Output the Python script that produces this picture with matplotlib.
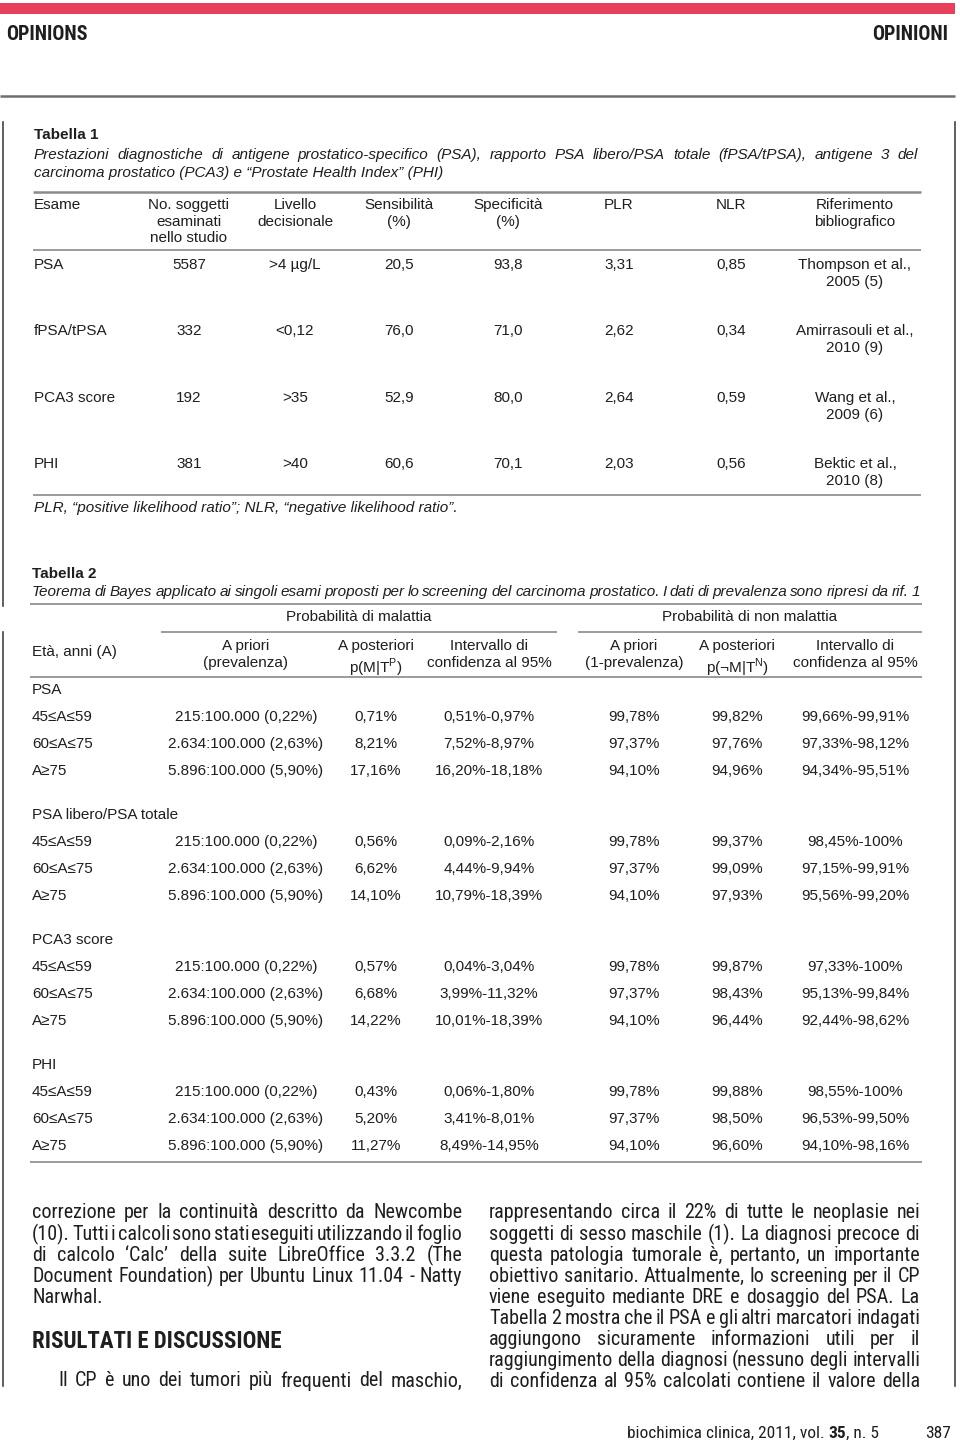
# plot.py
# Journal page recreation: two tables + body text, drawn as text on a pixel grid.

import matplotlib
matplotlib.use("Agg")
from matplotlib import pyplot as plt
from matplotlib import font_manager

W, H = 960, 1443
TABLE_FONT = ['Liberation Sans', 'DejaVu Sans']
INK = '#1e1e1e'
RULE = '#8a8a8a'
RED = '#e8405a'

plt.rcParams['mathtext.fontset'] = 'custom'
plt.rcParams['mathtext.rm'] = 'Liberation Sans'

# ---- Tabella 1 ----
t1_title = "Tabella 1"
t1_caption = [
    "Prestazioni diagnostiche di antigene prostatico-specifico (PSA), rapporto PSA libero/PSA totale (fPSA/tPSA), antigene 3 del",
    "carcinoma prostatico (PCA3) e “Prostate Health Index” (PHI)",
]
t1_headers = ["Esame", "No. soggetti\nesaminati\nnello studio", "Livello\ndecisionale",
              "Sensibilità\n(%)", "Specificità\n(%)", "PLR", "NLR", "Riferimento\nbibliografico"]
t1_exams = ["PSA", "fPSA/tPSA", "PCA3 score", "PHI"]
t1_n = ["5587", "332", "192", "381"]
t1_cutoff = [">4 µg/L", "<0,12", ">35", ">40"]
t1_sens = ["20,5", "76,0", "52,9", "60,6"]
t1_spec = ["93,8", "71,0", "80,0", "70,1"]
t1_plr = ["3,31", "2,62", "2,64", "2,03"]
t1_nlr = ["0,85", "0,34", "0,59", "0,56"]
t1_ref = ["Thompson et al.,\n2005 (5)", "Amirrasouli et al.,\n2010 (9)",
          "Wang et al.,\n2009 (6)", "Bektic et al.,\n2010 (8)"]
t1_note = "PLR, “positive likelihood ratio”; NLR, “negative likelihood ratio”."

# ---- Tabella 2 ----
t2_title = "Tabella 2"
t2_caption = ("Teorema di Bayes applicato ai singoli esami proposti per lo screening "
              "del carcinoma prostatico. I dati di prevalenza sono ripresi da rif. 1")
t2_groups_head = ["Probabilità di malattia", "Probabilità di non malattia"]
t2_headers = ["Età, anni (A)", "A priori\n(prevalenza)", "A posteriori\np(M|T$^{\\mathrm{P}}$)",
              "Intervallo di\nconfidenza al 95%", "A priori\n(1-prevalenza)",
              "A posteriori\np(¬M|T$^{\\mathrm{N}}$)", "Intervallo di\nconfidenza al 95%"]
t2_tests = ["PSA", "PSA libero/PSA totale", "PCA3 score", "PHI"]
t2_ages = ["45≤A≤59", "60≤A≤75", "A≥75"]
t2_prior = ["215:100.000 (0,22%)", "2.634:100.000 (2,63%)", "5.896:100.000 (5,90%)"]
t2_prior_neg = ["99,78%", "97,37%", "94,10%"]
t2_post = [["0,71%", "8,21%", "17,16%"],
           ["0,56%", "6,62%", "14,10%"],
           ["0,57%", "6,68%", "14,22%"],
           ["0,43%", "5,20%", "11,27%"]]
t2_ci = [["0,51%-0,97%", "7,52%-8,97%", "16,20%-18,18%"],
         ["0,09%-2,16%", "4,44%-9,94%", "10,79%-18,39%"],
         ["0,04%-3,04%", "3,99%-11,32%", "10,01%-18,39%"],
         ["0,06%-1,80%", "3,41%-8,01%", "8,49%-14,95%"]]
t2_post_neg = [["99,82%", "97,76%", "94,96%"],
               ["99,37%", "99,09%", "97,93%"],
               ["99,87%", "98,43%", "96,44%"],
               ["99,88%", "98,50%", "96,60%"]]
t2_ci_neg = [["99,66%-99,91%", "97,33%-98,12%", "94,34%-95,51%"],
             ["98,45%-100%", "97,15%-99,91%", "95,56%-99,20%"],
             ["97,33%-100%", "95,13%-99,84%", "92,44%-98,62%"],
             ["98,55%-100%", "96,53%-99,50%", "94,10%-98,16%"]]

# ---- body text ----
left_col = [
    "correzione per la continuità descritto da Newcombe",
    "(10). Tutti i calcoli sono stati eseguiti utilizzando il foglio",
    "di calcolo ‘Calc’ della suite LibreOffice 3.3.2 (The",
    "Document Foundation) per Ubuntu Linux 11.04 - Natty",
    "Narwhal.",
]
section_head = "RISULTATI E DISCUSSIONE"
left_para = "Il CP è uno dei tumori più frequenti del maschio,"
right_col = [
    "rappresentando circa il 22% di tutte le neoplasie nei",
    "soggetti di sesso maschile (1). La diagnosi precoce di",
    "questa patologia tumorale è, pertanto, un importante",
    "obiettivo sanitario. Attualmente, lo screening per il CP",
    "viene eseguito mediante DRE e dosaggio del PSA. La",
    "Tabella 2 mostra che il PSA e gli altri marcatori indagati",
    "aggiungono sicuramente informazioni utili per il",
    "raggiungimento della diagnosi (nessuno degli intervalli",
    "di confidenza al 95% calcolati contiene il valore della",
]


# pick a condensed sans for the body copy if one is around
def _find_condensed():
    wanted = ['Liberation Sans Narrow', 'Arial Narrow', 'Roboto Condensed',
              'Noto Sans Condensed', 'Open Sans Condensed', 'DejaVu Sans Condensed']
    fonts = font_manager.fontManager.ttflist
    names = {f.name for f in fonts}
    for w in wanted:
        if w in names:
            return w, 'normal'
    for fam in ['Noto Sans', 'DejaVu Sans', 'Open Sans', 'Roboto']:
        for f in fonts:
            if f.name == fam and str(f.stretch) in ('condensed', 'semi-condensed', '87.5', '75'):
                return fam, 'condensed'
    return None, None


cond_name, cond_stretch = _find_condensed()
if cond_name:
    BODY_FONT = [cond_name, 'Liberation Sans', 'DejaVu Sans']
    BODY_STRETCH = cond_stretch
    BODY_SIZE, HEAD_SIZE, FOOT_SIZE, MAST_SIZE = 14.5, 16.5, 12.5, 14.5
else:
    BODY_FONT = TABLE_FONT
    BODY_STRETCH = 'normal'
    BODY_SIZE, HEAD_SIZE, FOOT_SIZE, MAST_SIZE = 12.6, 13.5, 11.0, 12.5

fig = plt.figure(figsize=(W / 100, H / 100), dpi=100)
ax = fig.add_axes([0, 0, 1, 1])
ax.set_xlim(0, W)
ax.set_ylim(H, 0)
ax.axis('off')
renderer = fig.canvas.get_renderer()


def txt(x, y, s, size=11, ha='left', family=TABLE_FONT, va='center', **kw):
    if family is BODY_FONT and BODY_STRETCH != 'normal':
        kw.setdefault('fontstretch', BODY_STRETCH)
    return ax.text(x, y, s, fontsize=size, ha=ha, va=va, family=family,
                   color=INK, linespacing=1.25, multialignment='center', **kw)


def width_of(t):
    return t.get_window_extent(renderer).width


def justify(x0, x1, y, line, size, family, **kw):
    words = line.split(' ')
    arts = [txt(0, y, w, size=size, family=family, **kw) for w in words]
    widths = [width_of(a) for a in arts]
    gap = (x1 - x0 - sum(widths)) / max(len(words) - 1, 1)
    x = x0
    for a, w in zip(arts, widths):
        a.set_x(x)
        x += w + gap


def hline(y, x0, x1, lw=1.2, color=RULE):
    ax.plot([x0, x1], [y, y], color=color, lw=lw, solid_capstyle='butt')


# page furniture
ax.fill_between([0, 955], 3, 14, color=RED, lw=0)
txt(6, 35, "OPINIONS", size=MAST_SIZE, family=BODY_FONT, weight='bold')
txt(948, 35, "OPINIONI", size=MAST_SIZE, ha='right', family=BODY_FONT, weight='bold')
hline(96, 0, 955, lw=1.8, color='#6e6e6e')
ax.plot([2.5, 2.5], [122, 606], color='#444444', lw=1.2)
ax.plot([2.5, 2.5], [632, 1386], color='#444444', lw=1.2)
ax.plot([955, 955], [122, 1386], color='#444444', lw=1.2)

# ---- Tabella 1 ----
t1_x = [34, 189, 295, 399, 508, 619, 731, 855]
txt(34, 135, t1_title, weight='bold')
justify(34, 918, 155, t1_caption[0], 11, TABLE_FONT, style='italic')
txt(34, 173, t1_caption[1], style='italic')
hline(192, 33, 921, lw=1.8)
for i, h in enumerate(t1_headers):
    txt(t1_x[i], 198, h, ha='left' if i == 0 else 'center', va='top')
hline(250, 33, 921)
t1_rows_y = [263, 329, 396, 462]
for r, y in enumerate(t1_rows_y):
    cells = [t1_exams[r], t1_n[r], t1_cutoff[r], t1_sens[r], t1_spec[r],
             t1_plr[r], t1_nlr[r], t1_ref[r]]
    for i, c in enumerate(cells):
        txt(t1_x[i], y - 5, c, ha='left' if i == 0 else 'center', va='top')
hline(495, 33, 921)
txt(34, 508, t1_note, style='italic')

# ---- Tabella 2 ----
t2_x = [32, 246, 376, 489, 634, 737, 855]
txt(32, 574, t2_title, weight='bold')
justify(32, 920, 592, t2_caption, 11, TABLE_FONT, style='italic')
hline(604, 30, 922)
txt(359, 617, t2_groups_head[0], ha='center')
txt(750, 617, t2_groups_head[1], ha='center')
hline(632, 161, 557)
hline(632, 578, 922)
txt(t2_x[0], 652, t2_headers[0])
for i in range(1, 7):
    txt(t2_x[i], 639, t2_headers[i], ha='center', va='top')
hline(677, 30, 922)

group_y = [690, 815, 940, 1065]
row_step = 27.2
for g, gy in enumerate(group_y):
    txt(32, gy, t2_tests[g])
    for r in range(3):
        y = gy + 27 + r * row_step
        txt(t2_x[0], y, t2_ages[r])
        txt(t2_x[1], y, t2_prior[r], ha='center')
        txt(t2_x[2], y, t2_post[g][r], ha='center')
        txt(t2_x[3], y, t2_ci[g][r], ha='center')
        txt(t2_x[4], y, t2_prior_neg[r], ha='center')
        txt(t2_x[5], y, t2_post_neg[g][r], ha='center')
        txt(t2_x[6], y, t2_ci_neg[g][r], ha='center')
hline(1162, 30, 922)

# ---- body columns ----
line_step = 21.1
for i, line in enumerate(left_col):
    y = 1213 + i * line_step
    if i == len(left_col) - 1:
        txt(32, y, line, size=BODY_SIZE, family=BODY_FONT)
    else:
        justify(32, 462, y, line, BODY_SIZE, BODY_FONT)
txt(32, 1341, section_head, size=HEAD_SIZE, family=BODY_FONT, weight='bold')
justify(58, 462, 1381, left_para, BODY_SIZE, BODY_FONT)
for i, line in enumerate(right_col):
    justify(489, 920, 1213 + i * line_step, line, BODY_SIZE, BODY_FONT)

# footer
x = 627
for part, wt in [("biochimica clinica, 2011, vol. ", 'normal'), ("35", 'bold'), (", n. 5", 'normal')]:
    t = txt(x, 1433, part, size=FOOT_SIZE, family=BODY_FONT, weight=wt)
    x += width_of(t)
txt(951, 1433, "387", size=FOOT_SIZE, ha='right', family=BODY_FONT)

fig.savefig("out.png", dpi=100)
